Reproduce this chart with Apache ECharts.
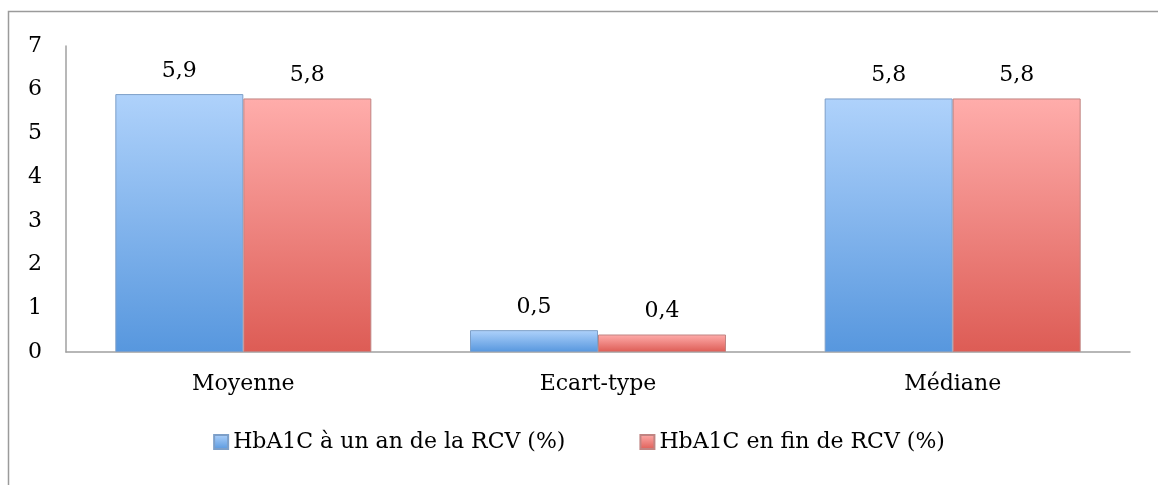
<!DOCTYPE html>
<html>
<head>
<meta charset="utf-8">
<script src="https://cdn.jsdelivr.net/npm/echarts@6/dist/echarts.min.js"></script>
<style>
  html, body { margin: 0; padding: 0; background: #fff; }
  #chart { width: 1158px; height: 485px; }
</style>
</head>
<body>
<div id="chart"></div>
<script>
var categories = ['Moyenne', 'Ecart-type', 'Médiane'];
var seriesNames = ['HbA1C à un an de la RCV (%)', 'HbA1C en fin de RCV (%)'];
var unAn = [5.9, 0.5, 5.8];
var finRcv = [5.8, 0.4, 5.8];

var font = '"DejaVu Serif", serif';

function grad(top, bottom) {
  return new echarts.graphic.LinearGradient(0, 0, 0, 1, [
    { offset: 0, color: top },
    { offset: 1, color: bottom }
  ]);
}
var blue = grad('#afd2fb', '#5797de');
var red = grad('#ffadab', '#dd5c55');

var chart = echarts.init(document.getElementById('chart'));
var option = {
  backgroundColor: '#ffffff',
  animation: false,
  graphic: [{
    type: 'rect',
    shape: { x: 8.5, y: 11.5, width: 1300, height: 700 },
    style: { fill: 'none', stroke: '#9b9b9b', lineWidth: 1.5 },
    silent: true
  }],
  grid: { left: 66, right: 28, top: 46, bottom: 133 },
  legend: {
    bottom: 27,
    left: 'center',
    itemGap: 74,
    itemWidth: 14,
    itemHeight: 14,
    textStyle: { fontFamily: font, fontSize: 22, color: '#000' },
    data: [
      { name: seriesNames[0], icon: 'rect', itemStyle: { color: blue } },
      { name: seriesNames[1], icon: 'rect', itemStyle: { color: red } }
    ]
  },
  xAxis: {
    type: 'category',
    data: categories,
    axisLine: { lineStyle: { color: '#a0a0a0', width: 1.5 } },
    axisTick: { show: false },
    axisLabel: { fontFamily: font, fontSize: 22, color: '#000', margin: 21 }
  },
  yAxis: {
    type: 'value',
    min: 0,
    max: 7,
    interval: 1,
    splitLine: { show: false },
    axisLine: { show: true, lineStyle: { color: '#a0a0a0', width: 1.5 } },
    axisTick: { show: false },
    axisLabel: { fontFamily: font, fontSize: 22, color: '#000', margin: 24 }
  },
  series: [
    {
      name: seriesNames[0],
      type: 'bar',
      data: unAn,
      barWidth: 128,
      barGap: '0%',
      itemStyle: { color: blue, borderColor: '#7d9fc8', borderWidth: 1 },
      label: {
        show: true, position: 'top', distance: 12,
        fontFamily: font, fontSize: 22, color: '#000',
        formatter: function (p) { return String(p.value).replace('.', ','); }
      }
    },
    {
      name: seriesNames[1],
      type: 'bar',
      data: finRcv,
      barWidth: 128,
      itemStyle: { color: red, borderColor: '#c08482', borderWidth: 1 },
      label: {
        show: true, position: 'top', distance: 12,
        fontFamily: font, fontSize: 22, color: '#000',
        formatter: function (p) { return String(p.value).replace('.', ','); }
      }
    }
  ]
};
chart.setOption(option);
</script>
</body>
</html>
